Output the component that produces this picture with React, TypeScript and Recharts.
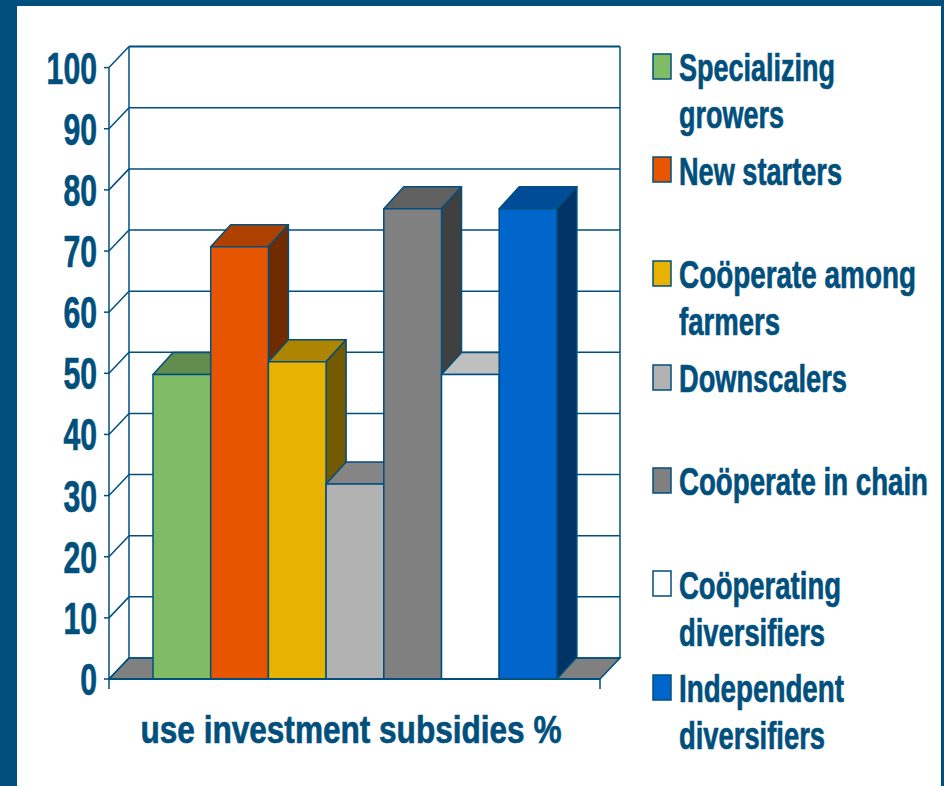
import React from "react";
import { BarChart, Bar, XAxis, YAxis, CartesianGrid, Legend } from "recharts";

const categories = ["use investment subsidies %"];
const seriesNames = [
  "Specializing growers",
  "New starters",
  "Coöperate among farmers",
  "Downscalers",
  "Coöperate in chain",
  "Coöperating diversifiers",
  "Independent diversifiers",
];
const seriesValues = [49.8, 70.7, 51.9, 31.9, 76.9, 49.8, 76.9];
const yTicks = [0, 10, 20, 30, 40, 50, 60, 70, 80, 90, 100];

const frontColors = ["#80bb66", "#e85500", "#e8b200", "#b2b2b2", "#808080", "#ffffff", "#0066cc"];
const topColors = ["#608c4d", "#ae4000", "#ae8500", "#858585", "#606060", "#bfbfbf", "#004c99"];
const sideColors = ["#405c33", "#702b00", "#735900", "#595959", "#404040", "#808080", "#003366"];

const INK = "#004f7c";
const FONT = '"Liberation Sans", Arial, sans-serif';
const DX = 20;
const DY = 21;
const BAR_DY = 22;
const STRETCH = 1.3;

const data = categories.map((category) => {
  const row: Record<string, string | number> = { category };
  seriesNames.forEach((n, i) => {
    row[n] = seriesValues[i];
  });
  return row;
});

const legendLayout = [
  { swatch: 54, lines: [["Specializing", 81, 156], ["growers", 128, 105]] },
  { swatch: 157, lines: [["New starters", 185, 163]] },
  { swatch: 261, lines: [["Coöperate among", 288, 237], ["farmers", 335, 101]] },
  { swatch: 365, lines: [["Downscalers", 392, 168]] },
  { swatch: 468, lines: [["Coöperate in chain", 495, 249]] },
  { swatch: 571, lines: [["Coöperating", 599, 162], ["diversifiers", 646, 146]] },
  { swatch: 675, lines: [["Independent", 702, 165], ["diversifiers", 749, 146]] },
];

function Condensed({ x, y, size, length, anchor, children }: any) {
  return (
    <text
      transform={`translate(${x},${y}) scale(1,${STRETCH})`}
      textAnchor={anchor || "start"}
      fontFamily={FONT}
      fontWeight="bold"
      fontSize={size / STRETCH}
      fill={INK}
      stroke={INK}
      strokeWidth={0.5}
      textLength={length}
      lengthAdjust="spacingAndGlyphs"
    >
      {children}
    </text>
  );
}

function Bar3D(props: any) {
  const { x, y, width, height, seriesIndex: i } = props;
  const r = x + width;
  const b = y + height;
  return (
    <g stroke={INK} strokeWidth={1.5} strokeLinejoin="round">
      <polygon points={`${x},${y} ${x + DX},${y - BAR_DY} ${r + DX},${y - BAR_DY} ${r},${y}`} fill={topColors[i]} />
      <polygon points={`${r},${y} ${r + DX},${y - BAR_DY} ${r + DX},${b - BAR_DY} ${r},${b}`} fill={sideColors[i]} />
      <rect x={x} y={y} width={width} height={height} fill={frontColors[i]} />
    </g>
  );
}

function GridLine(props: any) {
  const { x1, x2, y1 } = props;
  const isFloor = Math.abs(y1 - 679) < 1;
  const isTop = y1 < 70;
  return (
    <g stroke={INK} fill="none">
      {isFloor && (
        <>
          <polygon
            points={`${x1},${y1} ${x1 + DX},${y1 - DY} ${x2 + DX},${y1 - DY} ${x2},${y1}`}
            fill="#808080"
            strokeWidth={1.5}
          />
          <line x1={x1} y1={y1} x2={x1} y2={y1 + 10} strokeWidth={1.5} />
          <line x1={x2} y1={y1} x2={x2} y2={y1 + 10} strokeWidth={1.5} />
        </>
      )}
      {isTop && (
        <>
          <line x1={x1 + DX} y1={y1 - DY} x2={x1 + DX} y2={679 - DY} strokeWidth={1.5} />
          <line x1={x2 + DX} y1={y1 - DY} x2={x2 + DX} y2={679 - DY} strokeWidth={1.5} />
        </>
      )}
      <line x1={x1} y1={y1} x2={x1 + DX} y2={y1 - DY} strokeWidth={1.5} />
      <line x1={x1 + DX} y1={y1 - DY} x2={x2 + DX} y2={y1 - DY} strokeWidth={isTop ? 2 : 1.5} />
    </g>
  );
}

function YTick(props: any) {
  const { x, y, payload } = props;
  const label = String(payload.value);
  return (
    <Condensed x={x} y={y + 16} size={44} length={label.length * 16.8} anchor="end">
      {label}
    </Condensed>
  );
}

function XTick(props: any) {
  const { x, payload } = props;
  return (
    <Condensed x={x - 3.5} y={743} size={38} length={421} anchor="middle">
      {payload.value}
    </Condensed>
  );
}

function LegendBody({ payload }: any) {
  return (
    <svg width={944} height={786} style={{ position: "absolute", left: 0, top: 0 }}>
      {(payload || []).map((entry: any, i: number) => {
        const item = legendLayout[i];
        return (
          <g key={entry.value}>
            <rect x={653} y={item.swatch} width={18} height={25} fill={entry.color} stroke={INK} strokeWidth={1.5} />
            {item.lines.map(([text, y, w]) => (
              <Condensed key={String(text)} x={679} y={y} size={38} length={w}>
                {text}
              </Condensed>
            ))}
          </g>
        );
      })}
    </svg>
  );
}

export default function App() {
  return (
    <div style={{ position: "absolute", left: 0, top: 0, width: 944, height: 786, background: "#fff", overflow: "hidden" }}>
      <div style={{ position: "absolute", left: 0, top: 0, width: 944, height: 6, background: INK }} />
      <div style={{ position: "absolute", left: 0, top: 0, width: 17, height: 786, background: INK }} />
      <div style={{ position: "absolute", left: 941, top: 0, width: 3, height: 786, background: INK }} />
      <BarChart
        width={944}
        height={786}
        data={data}
        margin={{ top: 67.6, right: 344, bottom: 0, left: 0 }}
        barSize={57.7}
        barGap={0}
      >
        <CartesianGrid horizontal={GridLine} vertical={false} />
        <XAxis
          dataKey="category"
          height={107}
          axisLine={{ stroke: INK, strokeWidth: 2 }}
          tickLine={false}
          tick={XTick}
          interval={0}
        />
        <YAxis
          width={109}
          domain={[0, 100]}
          ticks={yTicks}
          interval={0}
          axisLine={{ stroke: INK, strokeWidth: 1.5 }}
          tickLine={{ stroke: INK, strokeWidth: 1.5 }}
          tickSize={5}
          tickMargin={7}
          tick={YTick}
        />
        <Legend
          layout="vertical"
          align="center"
          verticalAlign="middle"
          content={LegendBody}
          itemSorter={null}
          wrapperStyle={{ left: 0, top: 0, width: 944, height: 786, pointerEvents: "none" }}
        />
        {seriesNames.map((name, i) => (
          <Bar
            key={name}
            dataKey={name}
            name={name}
            fill={frontColors[i]}
            isAnimationActive={false}
            shape={(p: any) => <Bar3D {...p} seriesIndex={i} />}
          />
        ))}
      </BarChart>
    </div>
  );
}
